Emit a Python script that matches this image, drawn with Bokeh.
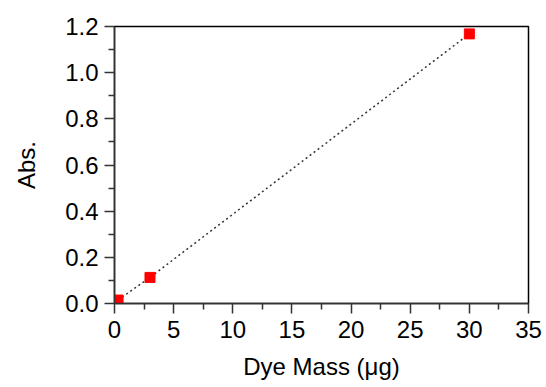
from bokeh.plotting import figure
from bokeh.models import Range1d, FixedTicker
from bokeh.embed import file_html
from bokeh.resources import INLINE

dye_mass = [0.3, 3.0, 30.0]
absorbance = [0.015, 0.113, 1.168]
x_ticks = [0, 5, 10, 15, 20, 25, 30, 35]
y_ticks = [0.0, 0.2, 0.4, 0.6, 0.8, 1.0, 1.2]
x_minor = [2.5, 7.5, 12.5, 17.5, 22.5, 27.5, 32.5]
y_minor = [0.1, 0.3, 0.5, 0.7, 0.9, 1.1]

FONT = "Liberation Sans"

p = figure(width=546, height=387, output_backend="svg", toolbar_location=None,
           x_range=Range1d(0, 35), y_range=Range1d(0, 1.2),
           min_border_left=114, min_border_right=18, min_border_top=26, min_border_bottom=84)
p.grid.visible = False
p.outline_line_color = "black"
p.outline_line_width = 1.5

p.line(dye_mass, absorbance, line_dash="2 3", line_color="#333333", line_width=1.5)
p.scatter(dye_mass, absorbance, marker="square", size=10, fill_color="#ff0000", line_color="#ff0000")

p.xaxis.ticker = FixedTicker(ticks=x_ticks, minor_ticks=x_minor)
p.yaxis.ticker = FixedTicker(ticks=y_ticks, minor_ticks=y_minor)
p.yaxis.major_label_overrides = {t: f"{t:.1f}" for t in y_ticks}
p.xaxis.axis_label = "Dye Mass (μg)"
p.yaxis.axis_label = "Abs."

for ax in (p.xaxis, p.yaxis):
    ax.axis_line_color = "#333333"
    ax.axis_line_width = 1.5
    ax.major_tick_line_color = "#333333"
    ax.minor_tick_line_color = "#333333"
    ax.major_tick_line_width = 1.5
    ax.minor_tick_line_width = 1.5
    ax.major_tick_out = 10
    ax.major_tick_in = 0
    ax.minor_tick_out = 6
    ax.minor_tick_in = 0
    ax.major_label_text_font = FONT
    ax.major_label_text_font_size = "24px"
    ax.major_label_text_color = "black"
    ax.axis_label_text_font = FONT
    ax.axis_label_text_font_size = "24px"
    ax.axis_label_text_font_style = "normal"
    ax.axis_label_text_color = "black"

p.xaxis.major_label_standoff = 7
p.yaxis.major_label_standoff = 6
p.xaxis.axis_label_standoff = 12
p.yaxis.axis_label_standoff = 22

open("out.html", "w").write(file_html(p, INLINE))
